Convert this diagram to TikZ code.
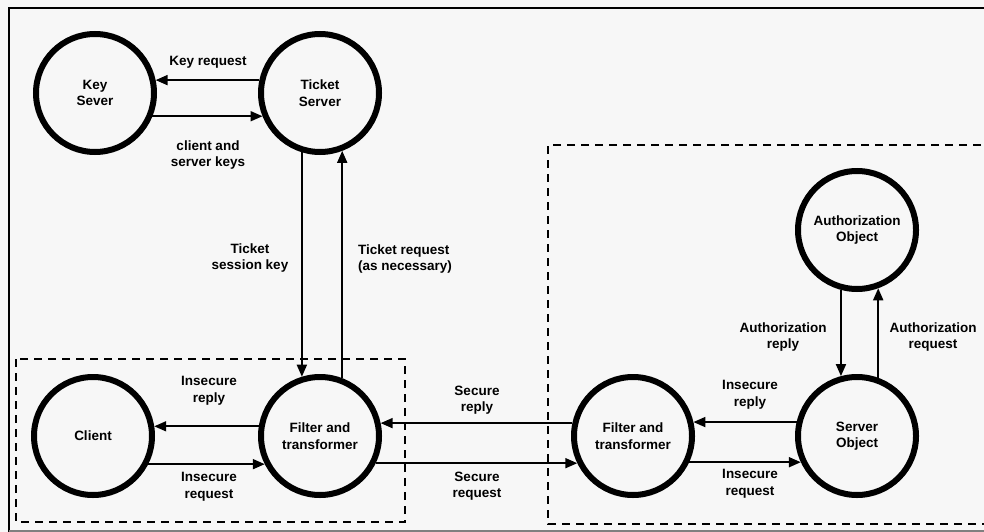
\documentclass[tikz,border=0pt]{standalone}
\usepackage{fontspec}
\setmainfont{Liberation Sans}
\usetikzlibrary{arrows.meta}
\definecolor{bg}{RGB}{247,247,247}
\newcommand\lblfont{\bfseries\fontsize{13.5}{16.5}\selectfont}
\begin{document}
\begin{tikzpicture}[x=1pt,y=-1pt,
  obj/.style={circle,draw,line width=6pt,minimum size=118pt,inner sep=0pt,outer sep=3pt,align=center,font=\lblfont},
  lbl/.style={align=center,font=\lblfont,inner sep=0pt},
  conn/.style={line width=1.8pt,-{Triangle[length=12pt,width=10pt]}},
  grp/.style={line width=2pt,dash pattern=on 8pt off 6pt}]
\fill[bg] (0,0) rectangle (984,532);
\useasboundingbox (0,0) rectangle (984,532);
% outer frame
\draw[line width=2.5pt] (9,532) -- (9,8) -- (990,8);
\draw[gray,line width=1.5pt] (9,531) -- (990,531);
% groups
\draw[grp] (16,359) rectangle (405,522);
\draw[grp] (995,145) -- (548,145) -- (548,524) -- (995,524);
% objects
\node[obj] (ks) at (95,93) {Key\\Sever};
\node[obj] (ts) at (320,93) {Ticket\\Server};
\node[obj] (cl) at (93,436) {Client};
\node[obj] (f1) at (320,436) {Filter and\\transformer};
\node[obj] (f2) at (633,436) {Filter and\\transformer};
\node[obj] (so) at (857,436) {Server\\Object};
\node[obj] (ao) at (857,230) {Authorization\\Object};
% connectors
\draw[conn] (ts.{168}) -- (ks.{12});
\draw[conn] (ks.{-22}) -- (ts.{202});
\draw[conn] (ts.{-107}) -- (f1.{107});
\draw[conn] (f1.{69}) -- (ts.{-69});
\draw[conn] (f1.{171}) -- (cl.{9});
\draw[conn] (cl.{-27}) -- (f1.{207});
\draw[conn] (f2.{168}) -- (f1.{12});
\draw[conn] (f1.{-26}) -- (f2.{206});
\draw[conn] (so.{167}) -- (f2.{13});
\draw[conn] (f2.{-25}) -- (so.{205});
\draw[conn] (ao.{-105}) -- (so.{105});
\draw[conn] (so.{70}) -- (ao.{-70});
% labels
\node[lbl] (l1) at (208,62) {Key request};
\node[lbl] (l2) at (208,155) {client and\\server keys};
\node[lbl] (l3) at (250,258) {Ticket\\session key};
\node[lbl,align=left] (l4) at (405,259) {Ticket request\\(as necessary)};
\node[lbl] (l5) at (209,391) {Insecure\\reply};
\node[lbl] (l6) at (209,487) {Insecure\\request};
\node[lbl] (l7) at (477,400) {Secure\\reply};
\node[lbl] (l8) at (477,486) {Secure\\request};
\node[lbl] (l9) at (750,395) {Insecure\\reply};
\node[lbl] (l10) at (750,484) {Insecure\\request};
\node[lbl] (l11) at (783,337) {Authorization\\reply};
\node[lbl] (l12) at (933,337) {Authorization\\request};
\end{tikzpicture}
\end{document}
